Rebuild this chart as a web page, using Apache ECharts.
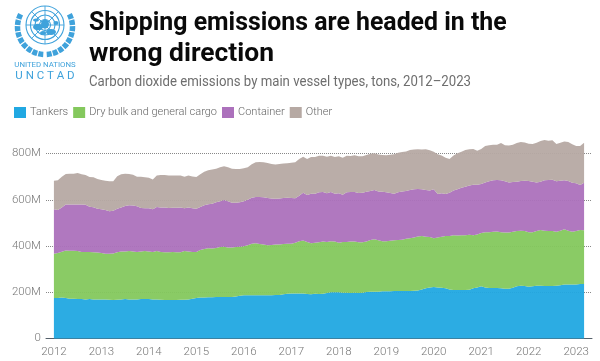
<!DOCTYPE html>
<html><head><meta charset="utf-8">
<style>html,body{margin:0;padding:0;background:#fff}#c{width:600px;height:361px}</style>
<script src="https://cdn.jsdelivr.net/npm/echarts@6/dist/echarts.min.js"></script>
</head><body><div id="c"></div>
<script>
// Upper edge of each band, in million tons, monthly from Jan 2012 to Mar 2023
const tankersTop = [175,175,177,175,172,172,171,171,169,171,169,169,169,169,168,167,168,169,171,169,169,169,171,171,171,169,169,168,167,167,167,167,168,168,169,172,175,177,177,178,178,180,180,180,180,180,182,185,187,187,187,187,187,187,187,187,188,188,191,194,195,195,195,195,192,191,194,192,194,197,200,200,200,198,198,197,198,197,198,201,202,202,202,204,204,204,205,205,205,205,205,207,208,212,217,221,223,221,220,217,212,210,210,210,210,211,217,221,226,221,218,218,218,217,215,215,220,226,228,227,224,226,228,228,227,227,227,228,230,233,233,233,234,236,236];
const bulkTop = [367,370,375,381,380,379,378,374,374,374,373,372,370,367,367,368,373,376,376,378,376,374,376,378,376,374,378,374,373,373,374,373,373,378,376,374,374,383,387,390,389,391,396,397,394,394,396,397,399,403,410,412,409,406,403,404,406,407,409,410,410,414,421,424,417,412,414,416,419,417,421,419,414,417,417,420,419,416,416,420,426,429,425,421,421,423,425,426,427,431,434,437,441,443,440,439,434,437,440,443,443,447,445,447,446,449,446,450,456,459,460,462,463,460,458,458,462,465,466,465,460,459,465,469,466,465,465,462,466,472,466,462,465,469,468];
const containerTop = [559,556,567,579,580,580,580,579,578,570,568,561,559,556,550,552,561,567,573,576,575,572,564,563,563,559,569,567,567,564,565,565,567,563,566,563,561,569,576,581,583,589,594,599,593,587,587,589,593,600,609,612,612,611,608,605,604,605,608,609,608,606,617,630,621,626,626,632,633,628,634,626,628,622,632,634,634,629,630,635,638,642,636,635,632,629,626,632,636,638,642,645,647,645,642,640,645,625,628,625,630,640,645,652,656,662,665,665,668,675,680,684,685,684,680,675,677,678,681,682,681,678,675,678,684,685,687,680,682,684,681,674,671,664,674];
const totalTop = [682,684,700,711,712,712,716,710,707,698,697,690,685,682,680,680,702,710,712,711,708,700,700,697,695,688,705,707,707,705,705,705,705,699,705,701,698,710,721,728,731,734,741,745,741,734,733,733,736,741,753,762,763,762,759,755,752,755,757,758,760,762,776,786,776,785,785,790,790,786,790,785,788,782,790,789,792,788,788,794,799,801,796,794,792,795,797,803,806,809,815,817,818,817,818,814,808,797,791,782,776,791,801,808,815,818,819,812,820,832,836,838,838,845,836,835,838,845,850,848,842,841,846,854,858,855,857,841,846,852,850,840,832,832,846];
const seriesNames = ['Tankers','Dry bulk and general cargo','Container','Other'];
const seriesColors = ['#21A8E2','#84C85D','#AC71BC','#B6A9A3'];
const yTicks = [0,200,400,600,800];
const titleLine1 = 'Shipping emissions are headed in the';
const titleLine2 = 'wrong direction';
const subtitle = 'Carbon dioxide emissions by main vessel types, tons, 2012\u20132023';

const months = [];
for (let y = 2011; y <= 2023; y++) for (let m = 1; m <= 12; m++) {
  if ((y === 2011 && m < 11) || (y === 2023 && m > 5)) continue;
  months.push(y + '-' + String(m).padStart(2, '0'));
}
const pad = a => [null, null, ...a, null, null];
const diff = (a, b) => pad(a.map((v, i) => b ? v - b[i] : v));
const bands = [diff(tankersTop), diff(bulkTop, tankersTop), diff(containerTop, bulkTop), diff(totalTop, containerTop)];

const blue = '#3FA2DB';
const chart = echarts.init(document.getElementById('c'), null, {renderer: 'canvas'});

// UN emblem, drawn as decoration
const logo = [];
const cx = 45, cy = 25;
[19, 14.5, 10, 5.5].forEach(r => logo.push({type:'circle', shape:{cx, cy, r}, style:{fill:'none', stroke:blue, lineWidth:1.1}}));
for (let a = 0; a < 8; a++) {
  const t = a * Math.PI / 4;
  logo.push({type:'line', shape:{x1:cx, y1:cy, x2:cx + 19 * Math.cos(t), y2:cy + 19 * Math.sin(t)}, style:{stroke:blue, lineWidth:0.9}});
}
[[38,27,5,3.2],[45,24,4,4.5],[51,32,5,3],[43,33,3,2],[56,23,2.5,2],[36,20,3,1.6]].forEach(b =>
  logo.push({type:'ellipse', shape:{cx:b[0], cy:b[1], rx:b[2], ry:b[3]}, style:{fill:blue}}));
[-1, 1].forEach(s => {
  logo.push({type:'arc', shape:{cx, cy:27, r:27.5, startAngle:s < 0 ? Math.PI * 0.52 : Math.PI * 0.48, endAngle:s < 0 ? Math.PI * 1.16 : -Math.PI * 0.16, clockwise:s < 0},
    style:{fill:'none', stroke:blue, lineWidth:5.5, lineDash:[5, 1.2]}});
});
logo.push({type:'text', style:{x:45, y:61, text:'UNITED NATIONS', fill:blue, font:'400 7.8px Roboto', align:'center', verticalAlign:'top'}});
logo.push({type:'text', style:{x:45, y:70, text:'U N C T A D', fill:blue, font:'400 11.5px Roboto', align:'center', verticalAlign:'top'}});
logo.push({type:'text', x:89, y:10, scaleX:0.956, style:{x:0, y:0, text:titleLine1, fill:'#0a0a0a', font:'700 26px Roboto', verticalAlign:'top'}});
logo.push({type:'text', x:89, y:41, scaleX:1.016, style:{x:0, y:0, text:titleLine2, fill:'#0a0a0a', font:'700 26px Roboto', verticalAlign:'top'}});
logo.push({type:'text', x:89, y:75, scaleX:0.88, style:{x:0, y:0, text:subtitle, fill:'#6e6e6e', font:'400 15px Roboto', verticalAlign:'top'}});

chart.setOption({
  animation: false,
  backgroundColor: '#fff',
  textStyle: {fontFamily: 'Roboto'},
  legend: {
    left: 14, top: 107, padding: 0, itemWidth: 12, itemHeight: 11, itemGap: 5, icon: 'rect',
    data: seriesNames,
    textStyle: {fontFamily:'Roboto', fontWeight:300, fontSize:11, color:'#666', padding:[5,0,0,-1]}
  },
  grid: {left: 46, right: 8, top: 153.5, bottom: 22.5},
  xAxis: {
    type: 'category', data: months, boundaryGap: false,
    axisLine: {show:true, lineStyle:{color:'#55606a', width:1}},
    axisTick: {show:false},
    axisLabel: {interval:(i, v) => v.endsWith('-01'), formatter: v => v.slice(0, 4), color:'#777', fontFamily:'Roboto', fontWeight:300, fontSize:11.5, margin:8}
  },
  yAxis: {
    type: 'value', min: 0, max: 800, interval: 200,
    axisLine: {show:false}, axisTick: {show:false},
    axisLabel: {formatter: v => yTicks.includes(v) && v ? v + 'M' : '0', color:'#777', fontFamily:'Roboto', fontWeight:300, fontSize:11.5, margin:5},
    splitLine: {show:true, lineStyle:{type:'dotted', color:'#888', width:1}}
  },
  series: seriesNames.map((name, i) => ({
    name, type: 'line', stack: 'all', data: bands[i], symbol: 'none', showSymbol: false, clip: false,
    lineStyle: {width: 0}, itemStyle: {color: seriesColors[i]},
    areaStyle: {color: seriesColors[i], opacity: 0.95}
  })),
  graphic: logo
});
</script></body></html>
